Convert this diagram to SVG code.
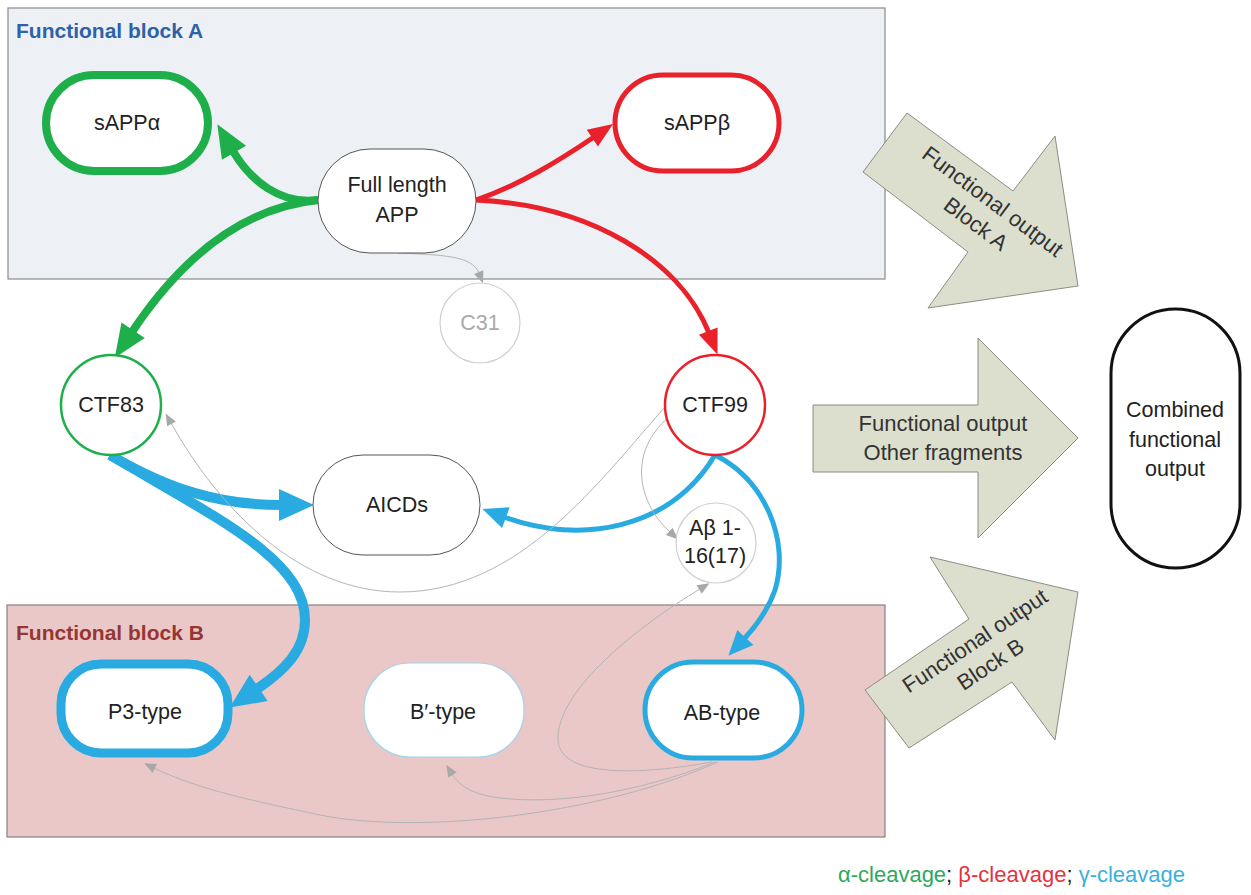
<svg xmlns="http://www.w3.org/2000/svg" width="1251" height="895" viewBox="0 0 1251 895">
<style>
text{font-family:"Liberation Sans",Arial,sans-serif;font-size:21.5px;fill:#222;text-anchor:middle}
.title{font-weight:bold;font-size:21px;text-anchor:start}
.plain{fill:#fff;stroke:#555;stroke-width:1}
.grey{fill:#fff;stroke:#cfcfcf;stroke-width:1.2}
.bigarrow{fill:#dcdfcd;stroke:#8c8c82;stroke-width:1}
.at{font-size:22px;fill:#333}
.c{fill:none;stroke-linecap:butt}
.g{stroke:#1eaf4b;stroke-width:8}
.r{stroke:#e8212b;stroke-width:5}
.b{stroke:#29abe2;stroke-width:10}
.bm{stroke:#29abe2;stroke-width:5}
.gr{stroke:#b4b4b4;stroke-width:1}
</style>
<defs>
<marker id="mg" markerUnits="userSpaceOnUse" markerWidth="40" markerHeight="40" viewBox="-2 -20 36 40" refX="0" refY="0" orient="auto"><path d="M-2,-14 L31,0 L-2,14 z" fill="#1eaf4b"/></marker>
<marker id="mr" markerUnits="userSpaceOnUse" markerWidth="30" markerHeight="30" viewBox="-2 -15 28 30" refX="0" refY="0" orient="auto"><path d="M-2,-10 L23,0 L-2,10 z" fill="#e8212b"/></marker>
<marker id="mb" markerUnits="userSpaceOnUse" markerWidth="40" markerHeight="40" viewBox="-2 -20 38 40" refX="0" refY="0" orient="auto"><path d="M-2,-16 L33,0 L-2,16 z" fill="#29abe2"/></marker>
<marker id="mbm" markerUnits="userSpaceOnUse" markerWidth="30" markerHeight="30" viewBox="-2 -15 28 30" refX="0" refY="0" orient="auto"><path d="M-2,-11 L23,0 L-2,11 z" fill="#29abe2"/></marker>
<marker id="mgr" markerUnits="userSpaceOnUse" markerWidth="14" markerHeight="14" viewBox="-1 -7 13 14" refX="0" refY="0" orient="auto"><path d="M-1,-5 L11,0 L-1,5 z" fill="#a8a8a8"/></marker>
</defs>
<rect width="1251" height="895" fill="#fff"/>

<g id="blockA">
<rect x="8" y="8" width="877" height="271" fill="#edf1f6" stroke="#8a8a8a" stroke-width="1.2"/>
<text class="title" x="16" y="38" style="fill:#2e62a6">Functional block A</text>
</g>
<g id="blockB">
<rect x="7" y="605" width="878" height="232" fill="#eac8c8" stroke="#8a8080" stroke-width="1.2"/>
<text class="title" x="16" y="640" style="fill:#963634">Functional block B</text>
</g>

<g id="arrowA">
<polygon class="bigarrow" points="907,113 1013,191 1055,136 1078,286 928,308 968,252 863,172"/>
<g transform="translate(984,213) rotate(36.7)">
<text class="at" x="0" y="-7">Functional output</text>
<text class="at" x="0" y="21">Block A</text>
</g>
</g>
<g id="arrowOther">
<polygon class="bigarrow" points="813,405 978,405 978,338 1078,438 978,538 978,472 813,472"/>
<text class="at" x="943" y="431">Functional output</text>
<text class="at" x="943" y="460">Other fragments</text>
</g>
<g id="arrowB">
<polygon class="bigarrow" points="930,557 969,619 865,690 909,748 1012,682 1055,740 1078,592"/>
<g transform="translate(983,653) rotate(-33.6)">
<text class="at" x="0" y="-7">Functional output</text>
<text class="at" x="0" y="21">Block B</text>
</g>
</g>

<g id="connectors">
<path class="c g" d="M318,200 C280,205 250,180 233,151" marker-end="url(#mg)"/>
<path class="c g" d="M318,200 C220,210 160,290 132,332" marker-end="url(#mg)"/>
<path class="c r" d="M476,200 C520,185 560,160 594,137" marker-end="url(#mr)"/>
<path class="c r" d="M476,200 C590,205 680,260 709,333" marker-end="url(#mr)"/>
<path class="c b" d="M110,455 C170,490 220,505 281,505" marker-end="url(#mb)"/>
<path class="c b" d="M110,455 C220,520 305,560 305,620 C305,650 285,670 257,689" marker-end="url(#mb)"/>
<path class="c bm" d="M715,455 C670,530 580,545 504,517" marker-end="url(#mbm)"/>
<path class="c bm" d="M715,455 C765,480 790,540 775,590 C768,610 757,625 744,639" marker-end="url(#mbm)"/>
<path class="c gr" d="M398,253 C440,255 472,255 479,273" marker-end="url(#mgr)"/>
<path class="c gr" d="M665,407 C600,480 520,592 400,592 C300,592 220,510 171,423" marker-end="url(#mgr)"/>
<path class="c gr" d="M668,418 C630,450 635,500 670,532" marker-end="url(#mgr)"/>
<path class="c gr" d="M712,762 C640,775 560,778 558,740 C556,690 640,625 700,589" marker-end="url(#mgr)"/>
<path class="c gr" d="M715,762 C640,792 560,805 500,798 C475,795 460,787 452,774" marker-end="url(#mgr)"/>
<path class="c gr" d="M718,762 C600,815 420,835 320,815 C250,800 200,790 154,768" marker-end="url(#mgr)"/>
</g>

<g id="sAPPa">
<rect x="46" y="75" width="162" height="96" rx="48" fill="#fff" stroke="#1eaf4b" stroke-width="8"/>
<text x="127" y="130">sAPPα</text>
</g>
<g id="sAPPb">
<rect x="615" y="75" width="164" height="96" rx="48" fill="#fff" stroke="#e8212b" stroke-width="5"/>
<text x="697" y="130">sAPPβ</text>
</g>
<g id="fullAPP">
<rect x="318" y="149" width="158" height="104" rx="52" class="plain"/>
<text x="397" y="192">Full length</text>
<text x="397" y="222">APP</text>
</g>
<g id="C31">
<circle cx="480" cy="323" r="40" class="grey"/>
<text x="480" y="330" style="fill:#a9a9a9">C31</text>
</g>
<g id="CTF83">
<circle cx="111" cy="405" r="50" fill="#fff" stroke="#1eaf4b" stroke-width="2.5"/>
<text x="111" y="412">CTF83</text>
</g>
<g id="CTF99">
<circle cx="715" cy="405" r="50" fill="#fff" stroke="#e8212b" stroke-width="2.5"/>
<text x="715" y="412">CTF99</text>
</g>
<g id="AICDs">
<rect x="313" y="455" width="167" height="100" rx="50" class="plain"/>
<text x="397" y="512">AICDs</text>
</g>
<g id="Abeta">
<circle cx="716" cy="543" r="40" class="grey"/>
<text x="715" y="535">Aβ 1-</text>
<text x="715" y="563">16(17)</text>
</g>
<g id="P3type">
<rect x="61" y="664" width="167" height="89" rx="40" fill="#fff" stroke="#29abe2" stroke-width="9"/>
<text x="145" y="719">P3-type</text>
</g>
<g id="Bptype">
<rect x="364" y="663" width="160" height="94" rx="46" fill="#fff" stroke="#9fd4ef" stroke-width="1.2"/>
<text x="443" y="719">B′-type</text>
</g>
<g id="ABtype">
<rect x="645" y="662" width="157" height="96" rx="48" fill="#fff" stroke="#29abe2" stroke-width="5"/>
<text x="722" y="720">AB-type</text>
</g>
<g id="combined">
<rect x="1111" y="309" width="129" height="259" rx="64.5" fill="#fff" stroke="#111" stroke-width="3"/>
<text x="1175" y="417">Combined</text>
<text x="1175" y="447">functional</text>
<text x="1175" y="476">output</text>
</g>

<g id="legend">
<text x="838" y="882" style="text-anchor:start;font-size:22px"><tspan style="fill:#2ea95c">α-cleavage</tspan><tspan style="fill:#222">; </tspan><tspan style="fill:#e5323c">β-cleavage</tspan><tspan style="fill:#222">; </tspan><tspan style="fill:#3ab0dc">γ-cleavage</tspan></text>
</g>
</svg>
